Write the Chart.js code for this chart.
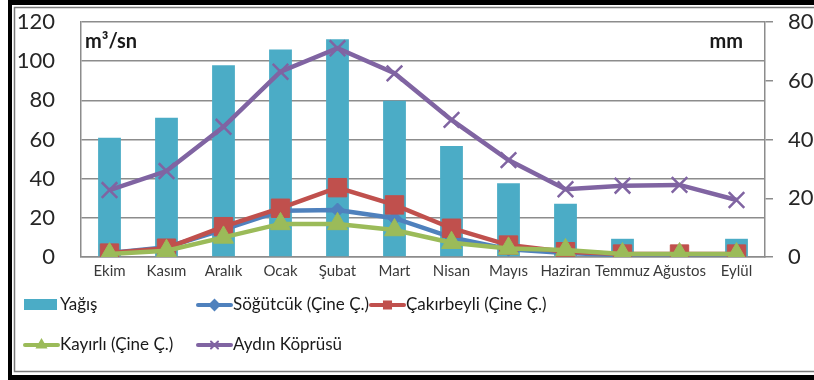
<!DOCTYPE html>
<html>
<head>
<meta charset="utf-8">
<script src="https://cdn.jsdelivr.net/npm/chart.js@4/dist/chart.umd.min.js"></script>
<style>
  html, body { margin: 0; padding: 0; background: #fff; }
  #wrap { position: relative; width: 814px; height: 380px; }
</style>
</head>
<body>
<div id="wrap"><canvas id="c" width="814" height="380"></canvas></div>
<script>
// Months of the water year
const months = ['Ekim', 'Kasım', 'Aralık', 'Ocak', 'Şubat', 'Mart', 'Nisan', 'Mayıs', 'Haziran', 'Temmuz', 'Ağustos', 'Eylül'];

// Precipitation (mm, right axis)
const yagis = [40.6, 47.4, 65.3, 70.6, 74.1, 53.2, 37.8, 25.1, 18.1, 6.2, 0.8, 6.2];

// Mean discharge (m³/sn, left axis)
const sogutcuk   = [2, 5, 14, 23.6, 24, 19.8, 10, 4, 2, 1, 1, 1];
const cakirbeyli = [2, 4.5, 15.5, 24.9, 35.4, 26.6, 14.7, 6.1, 2.7, 1.5, 1.5, 1.5];
const kayirli    = [1.5, 3.2, 10, 16.9, 16.9, 13.8, 7.3, 4.4, 3.6, 1.5, 1.5, 1.5];
const aydinKopru = [34.2, 43.9, 66.5, 94.6, 106.6, 93.8, 70, 49.5, 34.6, 36.4, 36.8, 29.1];

// Axis tick values
const leftTicks  = [0, 20, 40, 60, 80, 100, 120];
const rightTicks = [0, 20, 40, 60, 80];

const FONT = 'Lato, "Liberation Sans", sans-serif';
const NARROW = '"Liberation Sans Narrow", Lato, sans-serif';
const GRID = '#8c8c8c';

const framePlugin = {
  id: 'frame',
  beforeDraw(chart) {
    const ctx = chart.ctx;
    ctx.save();
    ctx.fillStyle = '#fff';
    ctx.fillRect(0, 0, chart.width, chart.height);
    ctx.fillStyle = '#000';
    ctx.fillRect(8, 0, chart.width - 8, 5);
    ctx.fillRect(8, 0, 4, chart.height);
    ctx.fillRect(8, chart.height - 5, chart.width - 8, 5);
    ctx.strokeStyle = '#7a7a7a';
    ctx.lineWidth = 1.5;
    ctx.beginPath();
    ctx.moveTo(chart.width, 7.5); ctx.lineTo(14.5, 7.5); ctx.lineTo(14.5, chart.height - 8.5); ctx.lineTo(chart.width, chart.height - 8.5);
    ctx.stroke();
    ctx.restore();
  },
  afterDraw(chart) {
    const ctx = chart.ctx;
    const area = chart.chartArea;
    ctx.save();
    // unit captions inside the plot
    ctx.fillStyle = '#1a1a1a';
    ctx.font = 'bold 20px ' + FONT;
    ctx.textBaseline = 'alphabetic';
    ctx.textAlign = 'left';
    ctx.fillText('m³/sn', area.left + 4, 48);
    ctx.textAlign = 'right';
    ctx.fillText('mm', area.right - 22, 48);

    // legend laid out in a fixed grid
    const slots = [[24, 305], [197, 305], [370, 305], [24, 345], [197, 345]];
    ctx.font = '17px ' + NARROW;
    ctx.textAlign = 'left';
    ctx.textBaseline = 'middle';
    chart.data.datasets.forEach((ds, i) => {
      const [x, y] = slots[i];
      if (ds.type === 'bar') {
        ctx.fillStyle = ds.backgroundColor;
        ctx.fillRect(x, y - 6, 33, 11);
      } else {
        ctx.strokeStyle = ds.borderColor;
        ctx.lineWidth = 4;
        ctx.lineCap = 'round';
        ctx.beginPath();
        ctx.moveTo(x + 1, y);
        ctx.lineTo(x + 34, y);
        ctx.stroke();
        ctx.fillStyle = ds.pointBackgroundColor;
        ctx.strokeStyle = ds.pointBorderColor;
        ctx.lineWidth = 2;
        Chart.helpers.drawPoint(ctx, { pointStyle: ds.pointStyle, radius: 5, borderWidth: 2 }, x + 17.5, y);
      }
      ctx.fillStyle = '#1a1a1a';
      ctx.fillText(ds.label, x + 36, y);
    });
    ctx.restore();
  }
};

function lineSet(label, data, color, style, radius, order) {
  return {
    type: 'line', label, data, yAxisID: 'y', order,
    borderColor: color, backgroundColor: color, borderWidth: 4.5,
    pointStyle: style, pointRadius: radius, pointHoverRadius: radius,
    pointBackgroundColor: color, pointBorderColor: color, pointBorderWidth: style === 'crossRot' ? 2.5 : 1,
    tension: 0, fill: false
  };
}

// keep the plot frame fixed regardless of label overhang
function noOverhang(s) {
  s.paddingTop = 0; s.paddingBottom = 0; s.paddingLeft = 0; s.paddingRight = 0;
}

new Chart(document.getElementById('c'), {
  data: {
    labels: months,
    datasets: [
      { type: 'bar', label: 'Yağış', data: yagis, yAxisID: 'y2', order: 10,
        backgroundColor: '#4BACC6', borderWidth: 0,
        barPercentage: 0.4, categoryPercentage: 1.0 },
      lineSet('Söğütcük (Çine Ç.)', sogutcuk, '#4F81BD', 'rectRot', 7, 5),
      lineSet('Çakırbeyli (Çine Ç.)', cakirbeyli, '#C0504D', 'rect', 13, 4),
      lineSet('Kayırlı (Çine Ç.)', kayirli, '#9BBB59', 'triangle', 11.5, 3),
      lineSet('Aydın Köprüsü', aydinKopru, '#8064A2', 'crossRot', 11, 2)
    ]
  },
  options: {
    responsive: false,
    animation: false,
    layout: { padding: { top: 22, left: 0, right: 0, bottom: 0 } },
    plugins: { legend: { display: false }, tooltip: { enabled: false } },
    scales: {
      x: {
        grid: { display: false, drawTicks: false },
        border: { display: true, color: GRID, width: 1.5 },
        ticks: { font: { family: NARROW, size: 15 }, color: '#3a3a3a', padding: 5, maxRotation: 0, autoSkip: false },
        afterFit(s) { s.height = 123; noOverhang(s); }
      },
      y: {
        position: 'left',
        min: leftTicks[0], max: leftTicks[leftTicks.length - 1],
        afterBuildTicks(s) { s.ticks = leftTicks.map(v => ({ value: v })); },
        grid: { color: GRID, lineWidth: 1.5, drawTicks: false },
        border: { display: true, color: GRID, width: 1.5 },
        ticks: { font: { family: FONT, size: 22 }, color: '#262626', padding: 26 },
        afterFit(s) { s.width = 81; noOverhang(s); }
      },
      y2: {
        position: 'right',
        min: rightTicks[0], max: rightTicks[rightTicks.length - 1],
        afterBuildTicks(s) { s.ticks = rightTicks.map(v => ({ value: v })); },
        grid: { drawOnChartArea: false, color: GRID, lineWidth: 1.5, tickLength: 8 },
        border: { display: true, color: GRID, width: 1.5 },
        ticks: { font: { family: FONT, size: 22 }, color: '#262626', padding: 15 },
        afterFit(s) { s.width = 49; noOverhang(s); }
      }
    }
  },
  plugins: [framePlugin]
});
</script>
</body>
</html>
